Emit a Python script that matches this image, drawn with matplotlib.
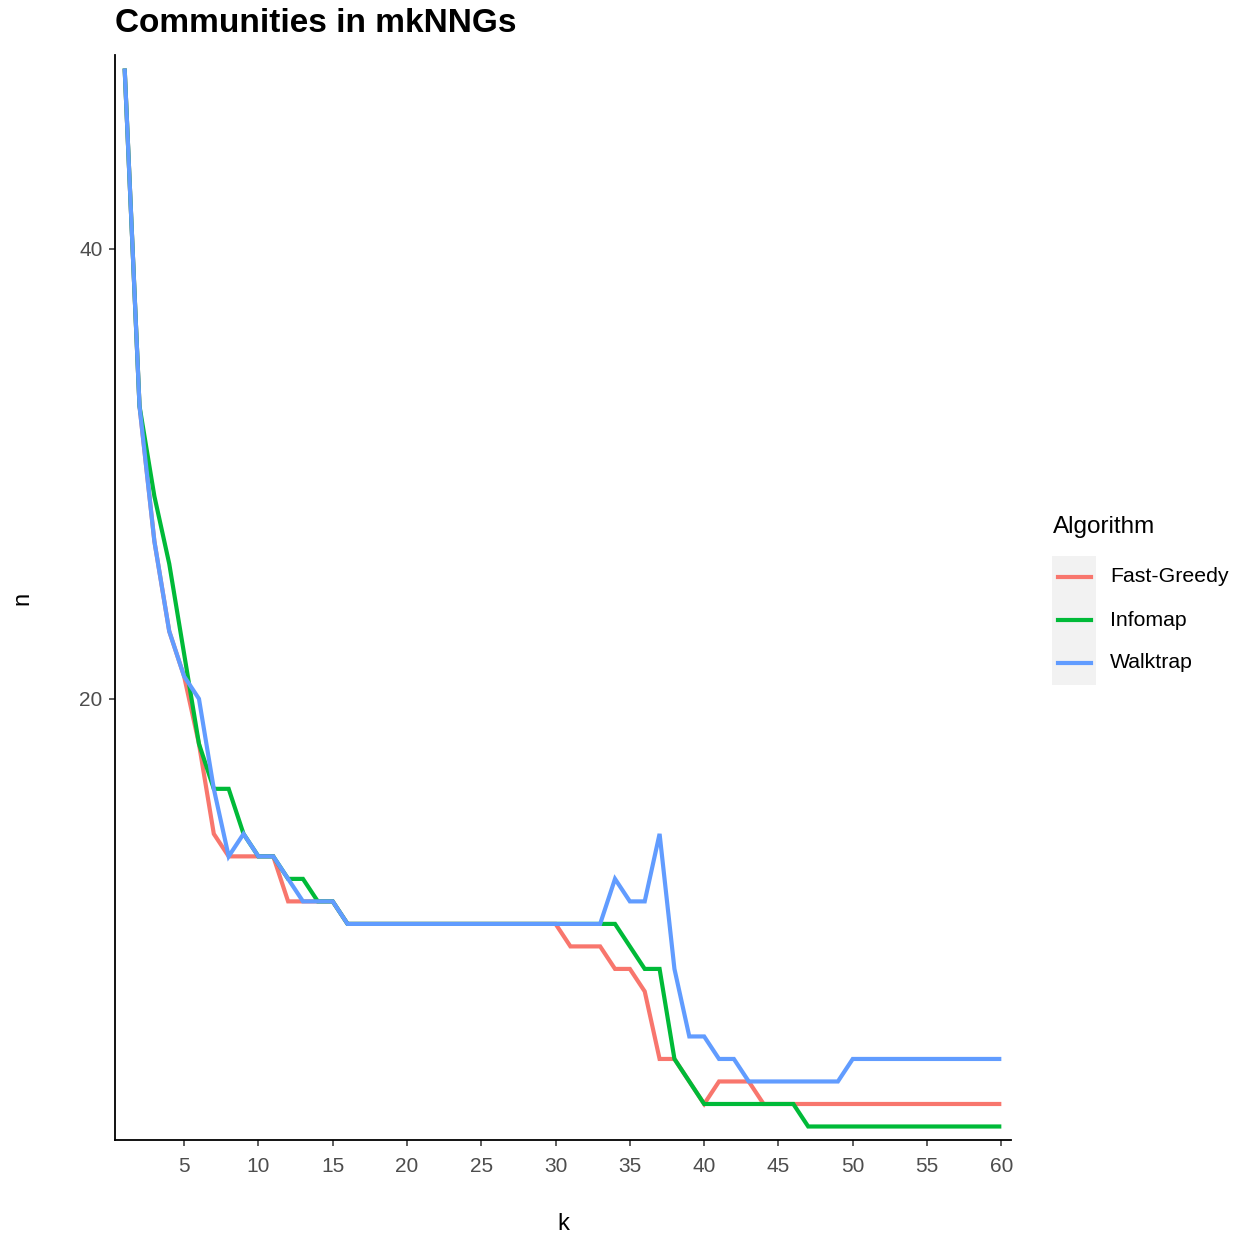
import matplotlib
matplotlib.use("Agg")
import matplotlib.pyplot as plt
from matplotlib.lines import Line2D
from matplotlib.patches import Rectangle

plt.rcParams["font.family"] = ["Liberation Sans", "DejaVu Sans"]

k = list(range(1, 61))
fast_greedy = [48, 33, 27, 23, 21, 18, 14, 13, 13, 13, 13, 11, 11, 11, 11] + [10] * 15 + \
    [9, 9, 9, 8, 8, 7, 4, 4, 3, 2, 3, 3, 3] + [2] * 17
infomap = [48, 33, 29, 26, 22, 18, 16, 16, 14, 13, 13, 12, 12, 11, 11] + [10] * 19 + \
    [9, 8, 8, 4, 3] + [2] * 7 + [1] * 14
walktrap = [48, 33, 27, 23, 21, 20, 16, 13, 14, 13, 13, 12, 11, 11, 11] + [10] * 18 + \
    [12, 11, 11, 14, 8, 5, 5, 4, 4] + [3] * 7 + [4] * 11

series = [("Fast-Greedy", fast_greedy, "#F8766D"),
          ("Infomap", infomap, "#00BA38"),
          ("Walktrap", walktrap, "#619CFF")]

W, H = 1240, 1238
fig = plt.figure(figsize=(W / 100, H / 100), dpi=100)
ax = fig.add_axes([115 / W, 1 - 1140 / H, (1011 - 115) / W, (1140 - 55) / H])

for name, vals, col in series:
    ax.plot(k, vals, color=col, lw=3.0, solid_joinstyle="miter", solid_capstyle="butt")

ax.set_xlim(0.35, 60.65)
ax.set_ylim(0.4, 48.6)
ax.set_xticks(range(5, 61, 5))
ax.set_yticks([20, 40])
for s in ["top", "right"]:
    ax.spines[s].set_visible(False)
for s in ["left", "bottom"]:
    ax.spines[s].set_linewidth(1.3)
    ax.spines[s].set_color("black")
ax.tick_params(length=4, width=1.1, color="#333333", labelcolor="#4D4D4D",
               labelsize=15, pad=5)
ax.tick_params(axis="x", pad=8)

fig.text(115 / W, 1 - 24 / H, "Communities in mkNNGs", fontsize=24,
         fontweight="bold", va="center", ha="left")
fig.text(563 / W, 1 - 1224 / H, "k", fontsize=17, va="center", ha="center")
fig.text(22 / W, 1 - 598 / H, "n", fontsize=17, va="center", ha="center", rotation=90)

# legend
fig.text(1053 / W, 1 - 527 / H, "Algorithm", fontsize=17.5, va="center", ha="left")
fig.patches.append(Rectangle((1052 / W, 1 - 685 / H), 44 / W, 129 / H,
                             transform=fig.transFigure, facecolor="#F2F2F2",
                             edgecolor="none"))
for i, (name, vals, col) in enumerate(series):
    yc = 1 - (577 + 43 * i) / H
    fig.add_artist(Line2D([1058 / W, 1091 / W], [yc, yc], color=col, lw=3.0,
                          transform=fig.transFigure))
    fig.text(1110 / W, yc, name, fontsize=15.3, va="center", ha="left")

fig.savefig("out.png", dpi=100)
